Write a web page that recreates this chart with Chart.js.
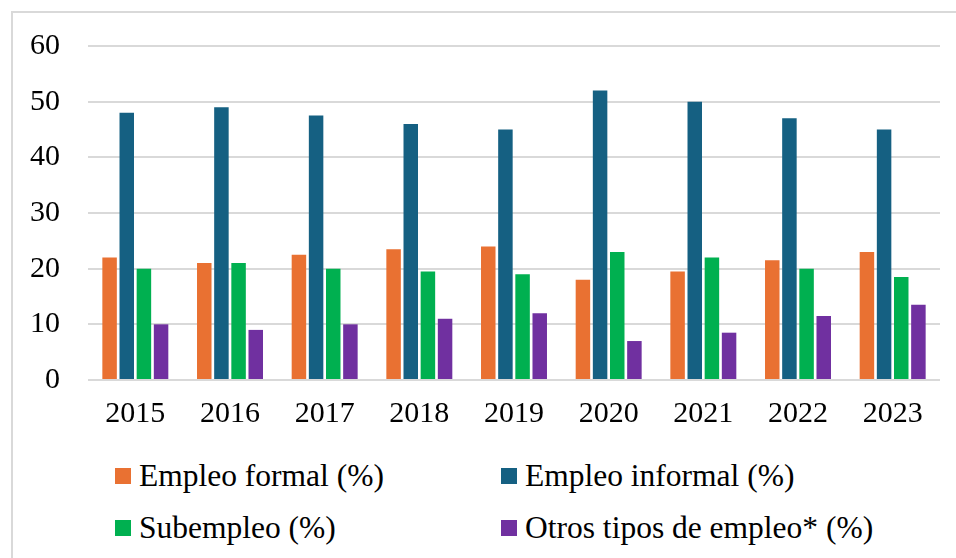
<!DOCTYPE html>
<html>
<head>
<meta charset="utf-8">
<script src="https://cdn.jsdelivr.net/npm/chart.js@4"></script>
<style>
  html, body { margin: 0; padding: 0; background: #fff; }
  body { width: 956px; height: 558px; position: relative; overflow: hidden; font-family: "Liberation Serif", "Times New Roman", serif; }
  #marco { position: absolute; left: 11px; top: 11px; width: 1000px; height: 600px; border: 2px solid #d9d9d9; }
  #lienzo { position: absolute; left: 0; top: 0; width: 956px; height: 445px; }
  #leyenda { position: absolute; left: 0; top: 0; }
  .item { position: absolute; display: flex; align-items: center; height: 40px; font-size: 31.5px; color: #000; white-space: nowrap; }
  .caja { width: 16px; height: 16px; margin-right: 8px; }
</style>
</head>
<body>
<div id="marco"></div>
<div id="lienzo"><canvas id="grafico"></canvas></div>
<div id="leyenda"></div>
<script>
const anios = ['2015', '2016', '2017', '2018', '2019', '2020', '2021', '2022', '2023'];
const empleoFormal = [22, 21, 22.5, 23.5, 24, 18, 19.5, 21.5, 23];
const empleoInformal = [48, 49, 47.5, 46, 45, 52, 50, 47, 45];
const subempleo = [20, 21, 20, 19.5, 19, 23, 22, 20, 18.5];
const otrosEmpleo = [10, 9, 10, 11, 12, 7, 8.5, 11.5, 13.5];
const etiquetasY = [0, 10, 20, 30, 40, 50, 60];

const series = [
  { label: 'Empleo formal (%)', data: empleoFormal, color: '#E97132' },
  { label: 'Empleo informal (%)', data: empleoInformal, color: '#156082' },
  { label: 'Subempleo (%)', data: subempleo, color: '#00B050' },
  { label: 'Otros tipos de empleo* (%)', data: otrosEmpleo, color: '#7030A0' }
];

const fuente = { family: '"Liberation Serif", "Times New Roman", serif', size: 30 };

const ctx = document.getElementById('grafico');

new Chart(ctx, {
  type: 'bar',
  data: {
    labels: anios,
    datasets: series.map(s => ({
      label: s.label,
      data: s.data,
      backgroundColor: s.color,
      borderWidth: 0,
      categoryPercentage: 0.725,
      barPercentage: 0.845
    }))
  },
  options: {
    responsive: true,
    maintainAspectRatio: false,
    animation: false,
    layout: { padding: { left: 2, right: 16, top: 44, bottom: 5 } },
    plugins: {
      legend: { display: false },
      tooltip: { enabled: false }
    },
    scales: {
      x: {
        grid: { display: false },
        border: { display: false },
        ticks: { color: '#000', font: fuente, padding: 8 }
      },
      y: {
        min: 0,
        max: 60,
        afterBuildTicks: (eje) => { eje.ticks = etiquetasY.map(v => ({ value: v })); },
        grid: { color: '#d9d9d9', lineWidth: 2, drawTicks: false },
        border: { display: false },
        ticks: { color: '#000', font: fuente, padding: 28 }
      }
    }
  }
});

// leyenda en dos columnas, como en el original
const leyenda = document.getElementById('leyenda');
const posiciones = [[115, 456], [501, 456], [115, 508], [501, 508]];
series.forEach((s, i) => {
  const item = document.createElement('div');
  item.className = 'item';
  item.style.left = posiciones[i][0] + 'px';
  item.style.top = posiciones[i][1] + 'px';
  const caja = document.createElement('span');
  caja.className = 'caja';
  caja.style.background = s.color;
  const texto = document.createElement('span');
  texto.textContent = s.label;
  item.appendChild(caja);
  item.appendChild(texto);
  leyenda.appendChild(item);
});
</script>
</body>
</html>
